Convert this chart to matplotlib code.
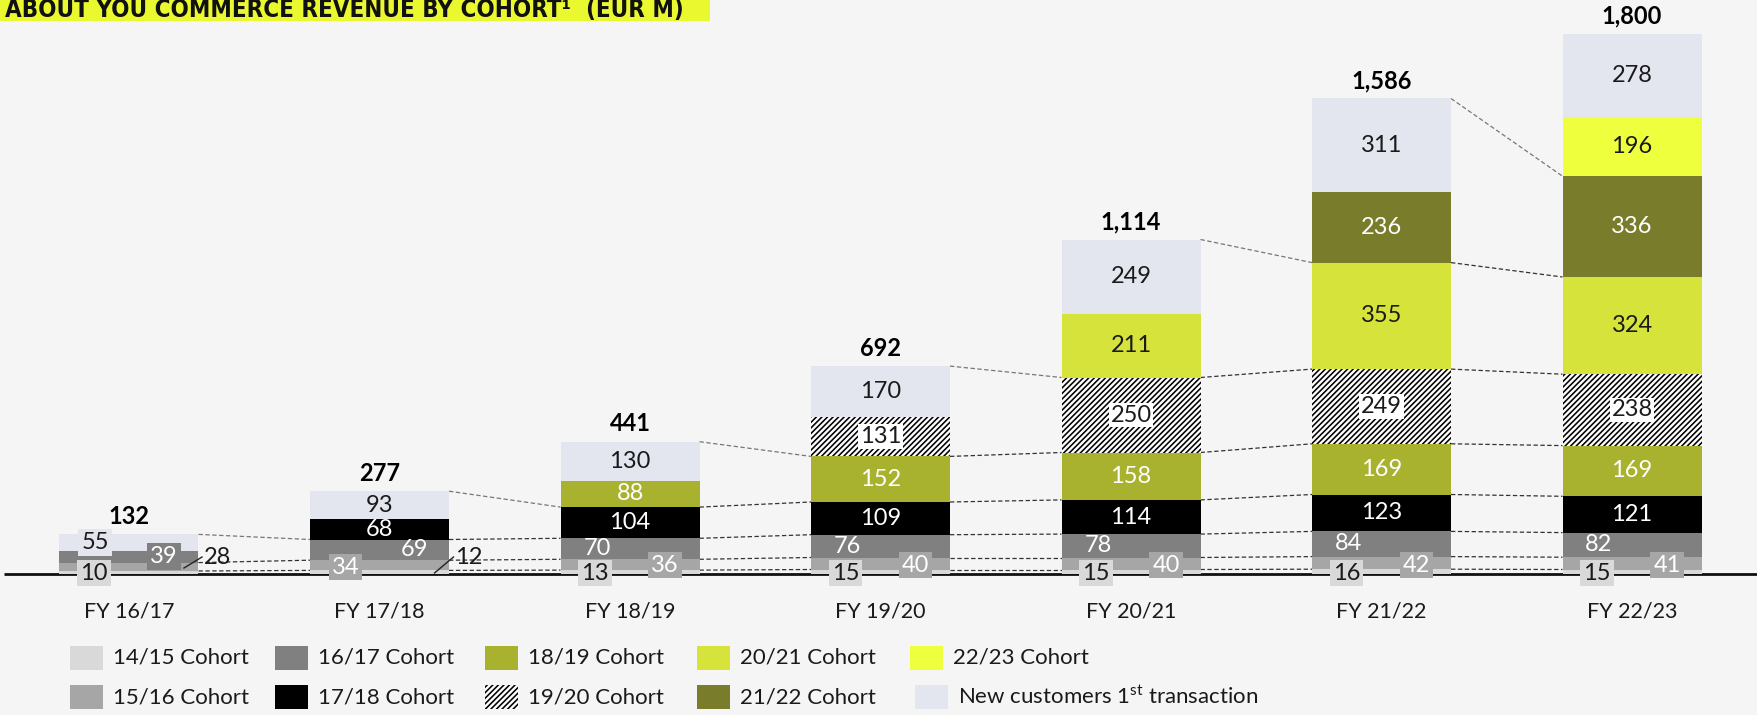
import matplotlib
matplotlib.use("Agg")
import matplotlib.pyplot as plt
from matplotlib.patches import Rectangle
from matplotlib import font_manager as fm
import numpy as np

# ---------------- data ----------------
years = ["FY 16/17", "FY 17/18", "FY 18/19", "FY 19/20", "FY 20/21", "FY 21/22", "FY 22/23"]
totals = [132, 277, 441, 692, 1114, 1586, 1800]

c1415 = [10, 12, 13, 15, 15, 16, 15]
c1516 = [28, 34, 36, 40, 40, 42, 41]
c1617 = [39, 69, 70, 76, 78, 84, 82]
c1718 = [0, 68, 104, 109, 114, 123, 121]
c1819 = [0, 0, 88, 152, 158, 169, 169]
c1920 = [0, 0, 0, 131, 250, 249, 238]
c2021 = [0, 0, 0, 0, 211, 355, 324]
c2122 = [0, 0, 0, 0, 0, 236, 336]
c2223 = [0, 0, 0, 0, 0, 0, 196]
new_customers = [55, 93, 130, 170, 249, 311, 278]

series_names = ["14/15 Cohort", "15/16 Cohort", "16/17 Cohort", "17/18 Cohort", "18/19 Cohort",
                "19/20 Cohort", "20/21 Cohort", "21/22 Cohort", "22/23 Cohort",
                r"New customers 1$^{\mathrm{st}}$ transaction"]
title = "ABOUT YOU COMMERCE REVENUE BY COHORT\u00b9  (EUR M)"

# ---------------- style ----------------
colors = ["#d9d9d9", "#a6a6a6", "#808080", "#000000", "#a9b22f",
          "#ffffff", "#d6e33a", "#797d2b", "#eeff3d", "#e3e6ee"]
hatches = [None, None, None, None, None, "//////", None, None, None, None]
text_dark = "#1a1a1a"
label_white = [False, True, True, True, True, False, False, True, False, False]

plt.rcParams['font.family'] = ['Lato', 'DejaVu Sans']
plt.rcParams['mathtext.fontset'] = 'custom'
plt.rcParams['mathtext.rm'] = 'Lato'
plt.rcParams['hatch.linewidth'] = 1.15

# condensed bold font for the title, if any is installed
title_prop = None
for f in fm.fontManager.ttflist:
    nm = f.name.lower()
    fn = f.fname.lower()
    is_cond = ('narrow' in nm or 'condensed' in nm or 'condensed' in fn or 'narrow' in fn
               or str(f.stretch) in ('condensed', 'semi-condensed', 'extra-condensed'))
    is_bold = (f.weight in ('bold', 'heavy', 'black', 700, 800, 900)) or ('bold' in fn)
    if is_cond and is_bold and 'oblique' not in fn and 'italic' not in fn:
        title_prop = fm.FontProperties(fname=f.fname)
        break
if title_prop is None:
    title_prop = fm.FontProperties(family='DejaVu Sans', weight='bold')

W, H = 1758, 715
fig = plt.figure(figsize=(W / 100, H / 100), dpi=100)
fig.patch.set_facecolor('#f5f5f5')
ax = fig.add_axes([0, 0, 1, 1])
ax.set_facecolor('none')
ax.axis('off')

X0, DX, Y0, SY = 129.0, 250.5, 574.0, 0.3
ax.set_xlim(-X0 / DX, (W - X0) / DX)
ax.set_ylim((Y0 - H) / SY, Y0 / SY)


def px(d):
    return d / DX


def vy(ypx):
    return (Y0 - ypx) / SY


bw = 139 / DX
x = np.arange(len(years))
stack = [c1415, c1516, c1617, c1718, c1819, c1920, c2021, c2122, c2223, new_customers]
stack = np.array(stack, dtype=float)
cum = np.cumsum(stack, axis=0)
bottoms = cum - stack

# baseline
ax.plot([px(4 - X0), (W - X0) / DX], [0, 0], color='#111111', lw=2.0, zorder=1, solid_capstyle='butt')

# bars
for k in range(len(stack)):
    ax.bar(x, stack[k], bottom=bottoms[k], width=bw, color=colors[k],
           edgecolor='black' if hatches[k] else colors[k], linewidth=0,
           hatch=hatches[k], zorder=2)

# connectors
n = len(years)
for i in range(n - 1):
    own = i + 2
    for c in range(own + 1):
        left = cum[-1][i] if c == own else cum[c][i]
        right = cum[c][i + 1]
        col = '#777777' if c == own else '#333333'
        ax.plot([i + bw / 2, i + 1 - bw / 2], [left, right], color=col, lw=0.9,
                dashes=(3.5, 2), zorder=1.5)

# labels
LFS = 17
for i in range(n):
    for k in range(len(stack)):
        v = stack[k][i]
        if v <= 0:
            continue
        xc, yc = i, bottoms[k][i] + v / 2
        tc = 'white' if label_white[k] else text_dark
        bbox = None
        ha = 'center'
        if k == 5:
            bbox = dict(boxstyle='square,pad=0.08', fc='white', ec='none')
        if k == 0:
            if i == 1:
                xc, yc, ha = i + px(76), vy(557), 'left'
                ax.plot([i + px(55), i + px(74)], [vy(573), vy(557)], color='#222222', lw=1.0, zorder=3)
            else:
                xc, yc = i + px(-35), vy(573)
                bbox = dict(boxstyle='square,pad=0.12', fc=colors[0], ec='none')
        elif k == 1:
            if i == 0:
                xc, yc, ha, tc = i + px(75), vy(557), 'left', text_dark
                ax.plot([i + px(55), i + px(73)], [vy(568), vy(557)], color='#222222', lw=1.0, zorder=3)
            elif i == 1:
                xc, yc = i + px(-34), vy(567)
                bbox = dict(boxstyle='square,pad=0.12', fc=colors[1], ec='none')
            else:
                xc, yc = i + px(35), vy(565)
                bbox = dict(boxstyle='square,pad=0.12', fc=colors[1], ec='none')
        elif k == 2:
            if i == 0:
                xc = i + px(35)
                bbox = dict(boxstyle='square,pad=0.12', fc=colors[2], ec='none')
            elif i == 1:
                xc = i + px(35)
            else:
                xc = i + px(-33)
        elif k == 9 and i == 0:
            xc = i + px(-34)
            bbox = dict(boxstyle='square,pad=0.12', fc=colors[9], ec='none')
        ax.text(xc, yc, f"{int(v)}", ha=ha, va='center', fontsize=LFS, color=tc,
                fontweight='normal', bbox=bbox, zorder=4)
    ax.text(i, cum[-1][i] + 60, f"{totals[i]:,}", ha='center', va='center',
            fontsize=17, fontweight='bold', color='black', zorder=4)
    ax.text(i, vy(612), years[i], ha='center', va='center', fontsize=15.5,
            fontweight='normal', color=text_dark, zorder=4)

# legend (manual grid)
ftr = fig.transFigure


def fx(p):
    return p / W


def fy(p):
    return 1 - p / H


leg_cols = [[70, 70], [275, 275], [485, 485], [697, 697], [910, 915]]
rows_y = [658, 697]
order = [[0, 1], [2, 3], [4, 5], [6, 7], [8, 9]]
for ci, col in enumerate(order):
    for ri, k in enumerate(col):
        xp = leg_cols[ci][ri]
        yp = rows_y[ri]
        fig.patches.append(Rectangle((fx(xp), fy(yp + 12)), 33 / W, 24 / H, transform=ftr,
                                     facecolor=colors[k], edgecolor='black' if hatches[k] else colors[k],
                                     linewidth=0, hatch=hatches[k]))
        fig.text(fx(xp + 43), fy(yp), series_names[k], ha='left', va='center',
                 fontsize=16, fontweight='normal', color=text_dark)

# title band
fig.patches.append(Rectangle((0, fy(21)), 710 / W, 21 / H + 0.01, transform=ftr,
                             facecolor='#eaf92f', edgecolor='none', zorder=0))
t = fig.text(fx(5), fy(17), title, ha='left', va='baseline', fontsize=30,
             fontproperties=title_prop, color='#111111')
t.set_fontsize(30)
fig.canvas.draw()
bb = t.get_window_extent()
t.set_fontsize(30 * 678 / bb.width)

fig.savefig("out.png", dpi=100, facecolor=fig.get_facecolor())
